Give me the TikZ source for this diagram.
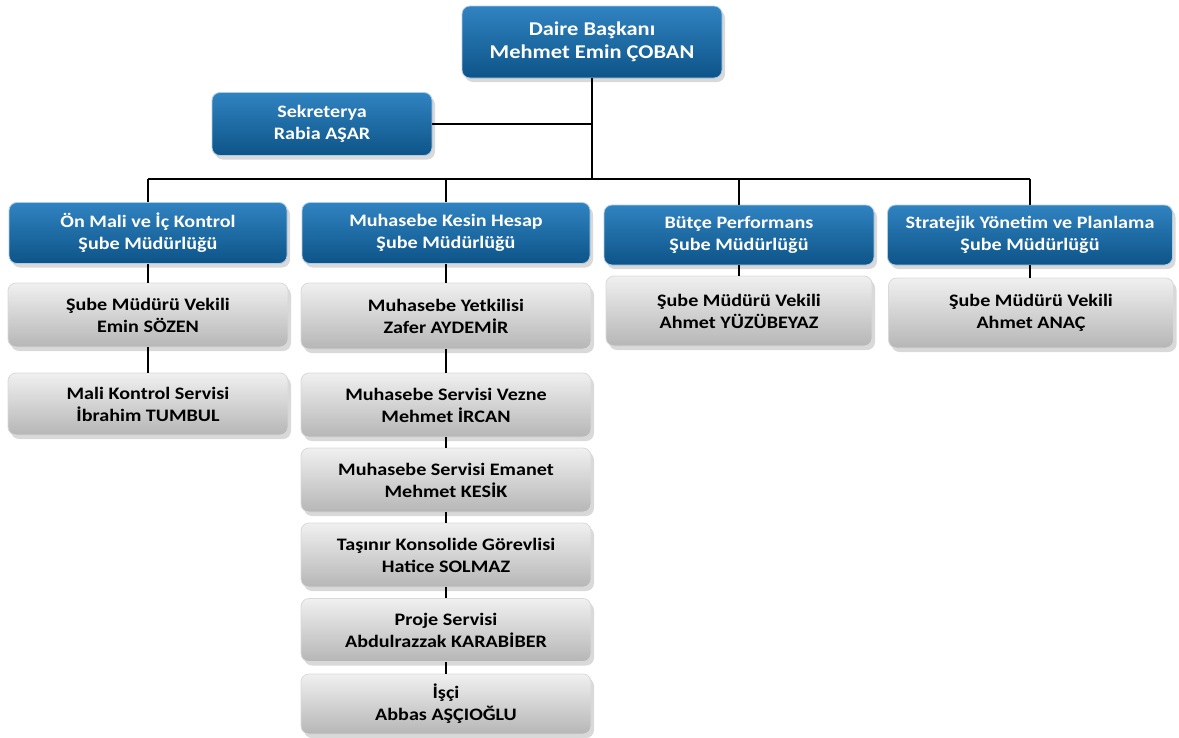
\documentclass[tikz,border=0pt]{standalone}
\usepackage{fontspec}
\setmainfont{Carlito}[FakeStretch=1.15]
\usetikzlibrary{shadows}
\definecolor{orgblue}{RGB}{48,131,193}
\definecolor{orgbluedark}{RGB}{13,84,136}
\definecolor{orggray}{RGB}{240,240,240}
\definecolor{orggraydark}{RGB}{182,182,182}
\tikzset{
  unit/.style={rectangle, rounded corners=8pt, inner sep=0pt, align=center,
    top color=orgblue, bottom color=orgbluedark, draw=white!60!orgblue, line width=0.8pt,
    text=white, font=\bfseries\fontsize{17.5}{22}\selectfont,
    drop shadow={shadow xshift=3pt, shadow yshift=-4pt, opacity=0.3}},
  staff/.style={unit, top color=orggray, bottom color=orggraydark, draw=white!85!black,
    text=black},
  link/.style={line width=1.6pt, black},
}
\begin{document}
\begin{tikzpicture}[x=1pt, y=-1pt]
        \useasboundingbox (0,0) rectangle (1179,737);
        % head and secretary
        \node[unit, minimum width=260, minimum height=72, font=\bfseries\fontsize{19.5}{23}\selectfont] (chief) at (592,42) {Daire Başkanı\\Mehmet Emin ÇOBAN};
        \node[unit, minimum width=220, minimum height=63] (sekr) at (322,124) {Sekreterya\\Rabia AŞAR};

        % branch offices
        \node[unit, minimum width=278, minimum height=61] (onmali) at (148,233) {Ön Mali  ve İç Kontrol\\Şube Müdürlüğü};
        \node[unit, minimum width=288, minimum height=61] (muhasebe) at (446,233) {Muhasebe Kesin Hesap\\Şube Müdürlüğü};
        \node[unit, minimum width=270, minimum height=60] (butce) at (739,235) {Bütçe Performans\\Şube Müdürlüğü};
        \node[unit, minimum width=285, minimum height=60] (strateji) at (1030,235) {Stratejik Yönetim ve Planlama\\Şube Müdürlüğü};

        % staff, first column
        \node[staff, minimum width=280, minimum height=64] (onvekil) at (148,315) {Şube Müdürü Vekili\\Emin SÖZEN};
        \node[staff, minimum width=280, minimum height=62] (malikontrol) at (148,404) {Mali Kontrol Servisi\\İbrahim TUMBUL};

        % staff, second column
        \node[staff, minimum width=290, minimum height=66] (yetkili) at (446,316) {Muhasebe Yetkilisi\\Zafer AYDEMİR};
        \node[staff, minimum width=290, minimum height=64] (vezne) at (446,405) {Muhasebe Servisi Vezne\\Mehmet İRCAN};
        \node[staff, minimum width=290, minimum height=64] (emanet) at (446,480) {Muhasebe Servisi Emanet\\Mehmet KESİK};
        \node[staff, minimum width=290, minimum height=64] (konsolide) at (446,555) {Taşınır Konsolide Görevlisi\\Hatice SOLMAZ};
        \node[staff, minimum width=290, minimum height=63] (proje) at (446,630) {Proje Servisi\\Abdulrazzak KARABİBER};
        \node[staff, minimum width=290, minimum height=60] (isci) at (446,704) {İşçi\\Abbas AŞÇIOĞLU};

        % staff, third and fourth column
        \node[staff, minimum width=266, minimum height=70] (butcevekil) at (739,311) {Şube Müdürü Vekili\\Ahmet YÜZÜBEYAZ};
        \node[staff, minimum width=285, minimum height=70] (stratvekil) at (1031,313) {Şube Müdürü Vekili\\Ahmet ANAÇ};

        % lines
        \coordinate (bus) at (592,179);
        \draw[link] (onmali.north |- bus) -- (strateji.north |- bus);
        \draw[link] (chief.south) -- (bus);
        \draw[link] (sekr.east) -- (sekr.east -| chief.south);
        \foreach \n in {onmali, muhasebe, butce, strateji}
            \draw[link] (\n.north) -- (\n.north |- bus);
        \foreach \a/\b in {onmali/onvekil, onvekil/malikontrol, muhasebe/yetkili, yetkili/vezne,
                vezne/emanet, emanet/konsolide, konsolide/proje, proje/isci,
                butce/butcevekil, strateji/stratvekil}
            \draw[link] (\a.south) -- (\a.south |- \b.north);
\end{tikzpicture}
\end{document}
